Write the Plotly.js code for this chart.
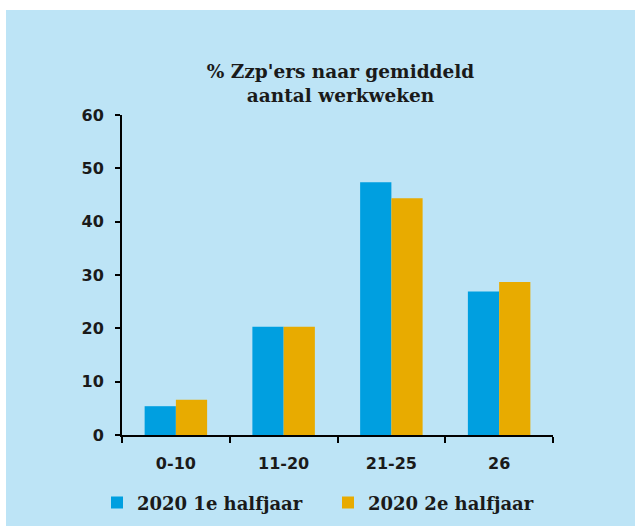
<!DOCTYPE html>
<html>
<head>
<meta charset="utf-8">
<script src="https://cdn.plot.ly/plotly-3.0.1.min.js"></script>
<style>
  html, body { margin: 0; padding: 0; background: #ffffff; width: 635px; height: 526px; overflow: hidden; }
  #chart { position: absolute; left: 6px; top: 10px; width: 629px; height: 516px; }
</style>
</head>
<body>
<div id="chart"></div>
<script>
const categories = ["0-10", "11-20", "21-25", "26"];
const series1Name = "2020 1e halfjaar";
const series2Name = "2020 2e halfjaar";
const series1 = [5.4, 20.3, 47.4, 26.9];
const series2 = [6.6, 20.3, 44.4, 28.7];
const yTicks = [0, 10, 20, 30, 40, 50, 60];

const BLUE = "#009fe0";
const ORANGE = "#e8ab00";
const BG = "#bde4f6";
const serif = "DejaVu Serif, serif";
const sans = "DejaVu Sans, sans-serif";

const traces = [
  { type: "bar", name: series1Name, x: categories, y: series1, legend: "legend", marker: { color: BLUE, line: { width: 0 } } },
  { type: "bar", name: series2Name, x: categories, y: series2, legend: "legend2", marker: { color: ORANGE, line: { width: 0 } } }
];

const legendStyle = (x) => ({
  orientation: "h", xref: "container", x: x, xanchor: "left",
  yref: "container", y: 0.045, yanchor: "middle",
  indentation: -9,
  font: { family: serif, size: 18, weight: "bold", color: "#1a1a1a" },
  bgcolor: "rgba(0,0,0,0)"
});

const layout = {
  width: 629, height: 516,
  paper_bgcolor: BG, plot_bgcolor: BG,
  margin: { l: 116, r: 82, t: 105, b: 91 },
  barmode: "group", bargap: 0.42, bargroupgap: 0,
  title: {
    text: "% Zzp'ers naar gemiddeld<br>aantal werkweken",
    font: { family: serif, size: 18.5, weight: "bold", color: "#1a1a1a" },
    xref: "paper", x: 0.507, xanchor: "center",
    yref: "container", y: 0.868, yanchor: "top"
  },
  xaxis: {
    type: "category", range: [-0.5, 3.5], automargin: false,
    showline: true, linecolor: "#000", linewidth: 2,
    ticks: "outside", tickson: "boundaries", ticklen: 6, tickwidth: 2, tickcolor: "#000",
    tickfont: { family: sans, size: 16, weight: "bold", color: "#1a1a1a" },
    ticklabelstandoff: 13,
    showgrid: false, zeroline: false, fixedrange: true
  },
  yaxis: {
    range: [0, 60], tickvals: yTicks, ticktext: yTicks.map(String), automargin: false,
    showline: true, linecolor: "#000", linewidth: 2,
    ticks: "outside", ticklen: 5, tickwidth: 2, tickcolor: "#000",
    tickfont: { family: sans, size: 16, weight: "bold", color: "#1a1a1a" },
    ticklabelstandoff: 8,
    showgrid: false, zeroline: false, fixedrange: true
  },
  showlegend: true,
  legend: legendStyle(100 / 629),
  legend2: legendStyle(331 / 629)
};

Plotly.newPlot("chart", traces, layout, { staticPlot: true, displayModeBar: false });
</script>
</body>
</html>
